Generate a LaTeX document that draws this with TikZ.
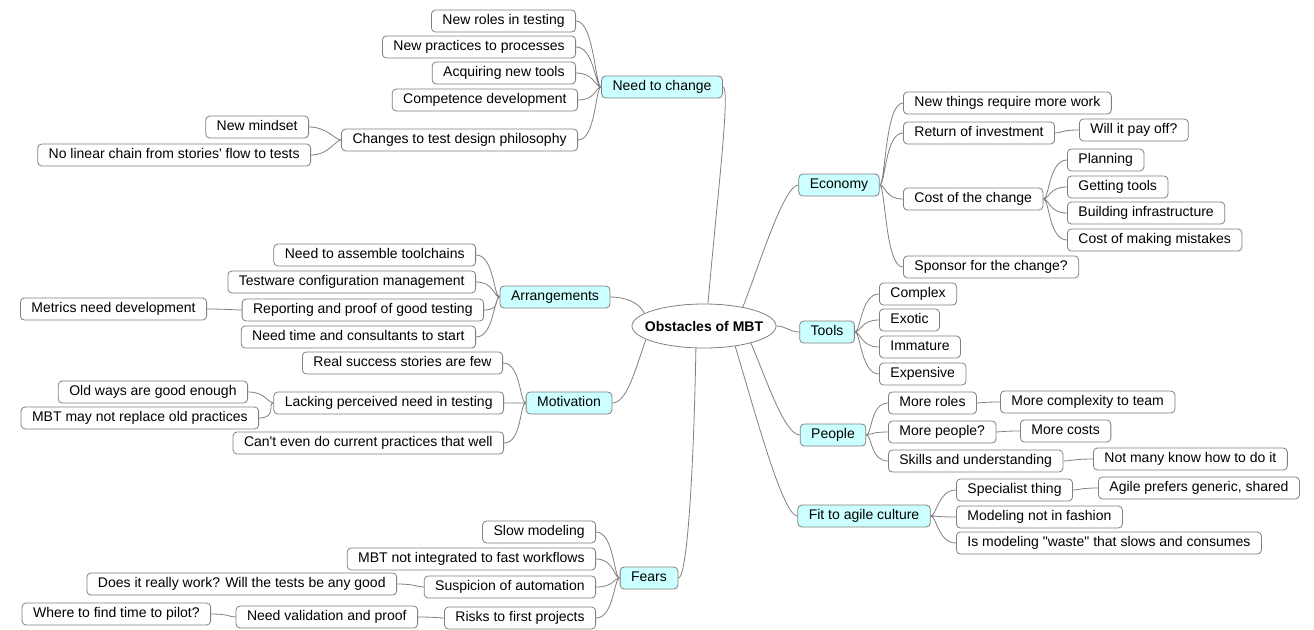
\documentclass[tikz,border=0pt]{standalone}
\usepackage{fontspec}
\setmainfont{Liberation Sans}[Ligatures=TeXOff]
\usetikzlibrary{shapes.geometric}
\definecolor{lnk}{HTML}{808080}
\definecolor{topic}{HTML}{CCFFFF}
\tikzset{
	leaf/.style={draw=lnk, line width=0.8pt, rounded corners=4pt, fill=white, font=\fontsize{14}{16}\selectfont, inner xsep=11pt, inner ysep=2pt, minimum height=22pt, text height=10pt, text depth=3pt},
	topicbox/.style={leaf, fill=topic},
	cn/.style={draw=lnk, line width=0.8pt},
	lbr/.style={out=0, in=180, out distance=18pt, in distance=6pt},
	rbr/.style={out=0, in=180, out distance=6pt, in distance=18pt}
}
\begin{document}
\begin{tikzpicture}[x=1pt, y=1pt]
				\useasboundingbox (0,0) rectangle (1314,-629);
				\node [draw=lnk, line width=0.8pt, ellipse, fill=white, minimum width=144pt, minimum height=44pt, inner xsep=-9pt, inner ysep=0pt, font=\fontsize{14}{16}\selectfont\bfseries] (root) at (704,-326) {Obstacles of MBT};
				%
				\node [topicbox] (ntc) at (662,-87) {Need to change};
				\node [leaf, anchor=east] (roles) at (576,-21) {New roles in testing};
				\node [leaf, anchor=east] (practices) at (576,-47) {New practices to processes};
				\node [leaf, anchor=east] (acquiring) at (576,-73) {Acquiring new tools};
				\node [leaf, anchor=east] (competence) at (578,-100) {Competence development};
				\node [leaf, anchor=east] (changes) at (578,-140) {Changes to test design philosophy};
				\node [leaf, anchor=east] (mindset) at (309,-127) {New mindset};
				\node [leaf, anchor=east] (nolinear) at (311,-155) {No linear chain from stories' flow to tests};
				%
				\node [topicbox] (arr) at (555,-297) {Arrangements};
				\node [leaf, anchor=east] (toolchains) at (476,-255) {Need to assemble toolchains};
				\node [leaf, anchor=east] (testware) at (476,-282) {Testware configuration management};
				\node [leaf, anchor=east] (reporting) at (484,-310) {Reporting and proof of good testing};
				\node [leaf, anchor=east] (consultants) at (476,-337) {Need time and consultants to start};
				\node [leaf, anchor=east] (metrics) at (207,-309) {Metrics need development};
				%
				\node [topicbox] (mot) at (569,-403) {Motivation};
				\node [leaf, anchor=east] (success) at (503,-363) {Real success stories are few};
				\node [leaf, anchor=east] (lacking) at (504,-403) {Lacking perceived need in testing};
				\node [leaf, anchor=east] (cant) at (504,-443) {Can't even do current practices that well};
				\node [leaf, anchor=east] (old) at (248,-392) {Old ways are good enough};
				\node [leaf, anchor=east] (mbtmay) at (259,-418) {MBT may not replace old practices};
				%
				\node [topicbox] (fears) at (649,-578) {Fears};
				\node [leaf, anchor=east] (slow) at (596,-532) {Slow modeling};
				\node [leaf, anchor=east] (notint) at (596,-559) {MBT not integrated to fast workflows};
				\node [leaf, anchor=east] (susp) at (596,-587) {Suspicion of automation};
				\node [leaf, anchor=east] (risks) at (596,-618) {Risks to first projects};
				\node [leaf, anchor=east] (does) at (397,-584) {Does it really work? Will the tests be any good};
				\node [leaf, anchor=east] (valid) at (418,-617) {Need validation and proof};
				\node [leaf, anchor=east] (where) at (211,-614) {Where to find time to pilot?};
				%
				\node [topicbox] (eco) at (839,-185) {Economy};
				\node [leaf, anchor=west] (newthings) at (903,-103) {New things require more work};
				\node [leaf, anchor=west] (roi) at (903,-133) {Return of investment};
				\node [leaf, anchor=west] (payoff) at (1079,-130) {Will it pay off?};
				\node [leaf, anchor=west] (cost) at (903,-199) {Cost of the change};
				\node [leaf, anchor=west] (planning) at (1067,-160) {Planning};
				\node [leaf, anchor=west] (gettools) at (1067,-187) {Getting tools};
				\node [leaf, anchor=west] (building) at (1067,-213) {Building infrastructure};
				\node [leaf, anchor=west] (mistakes) at (1067,-240) {Cost of making mistakes};
				\node [leaf, anchor=west] (sponsor) at (903,-267) {Sponsor for the change?};
				%
				\node [topicbox] (tools) at (827,-332) {Tools};
				\node [leaf, anchor=west] (complex) at (879,-294) {Complex};
				\node [leaf, anchor=west] (exotic) at (879,-320) {Exotic};
				\node [leaf, anchor=west] (immature) at (879,-347) {Immature};
				\node [leaf, anchor=west] (expensive) at (879,-374) {Expensive};
				%
				\node [topicbox] (people) at (833,-435) {People};
				\node [leaf, anchor=west] (moreroles) at (888,-403) {More roles};
				\node [leaf, anchor=west] (complexity) at (1000,-402) {More complexity to team};
				\node [leaf, anchor=west] (morepeople) at (888,-432) {More people?};
				\node [leaf, anchor=west] (costs) at (1020,-431) {More costs};
				\node [leaf, anchor=west] (skills) at (888,-461) {Skills and understanding};
				\node [leaf, anchor=west] (notmany) at (1093,-459) {Not many know how to do it};
				%
				\node [topicbox] (fit) at (864,-516) {Fit to agile culture};
				\node [leaf, anchor=west] (specialist) at (956,-490) {Specialist thing};
				\node [leaf, anchor=west] (agile) at (1098,-488) {Agile prefers generic, shared};
				\node [leaf, anchor=west] (fashion) at (956,-517) {Modeling not in fashion};
				\node [leaf, anchor=west] (waste) at (956,-543) {Is modeling "waste" that slows and consumes};
				%
				\draw [cn] (ntc.east) to[out=0, in=85, out distance=8pt, in distance=110pt] (root.80)
				(root.26) to[out=68, in=180, out distance=40pt, in distance=15pt] (eco.west)
				(root.east) to[out=0, in=180] (tools.west)
				(root.340) to[out=-67, in=180, out distance=40pt, in distance=15pt] (people.west)
				(root.327) to[out=-73, in=180, out distance=60pt, in distance=15pt] (fit.west)
				(root.250) to[out=-91, in=0, out distance=100pt, in distance=10pt] (fears.east)
				(arr.east) to[out=0, in=115, out distance=15pt, in distance=12pt] (root.168)
				(mot.east) to[out=0, in=250, out distance=15pt, in distance=30pt] (root.193);
				%
				\draw [cn] (roles.east) to[lbr] (ntc.west)
				(practices.east) to[lbr] (ntc.west)
				(acquiring.east) to[lbr] (ntc.west)
				(competence.east) to[lbr] (ntc.west)
				(changes.east) to[lbr] (ntc.west)
				(mindset.east) to[lbr] (changes.west)
				(nolinear.east) to[lbr] (changes.west);
				\draw [cn] (toolchains.east) to[lbr] (arr.west)
				(testware.east) to[lbr] (arr.west)
				(reporting.east) to[lbr] (arr.west)
				(consultants.east) to[lbr] (arr.west)
				(metrics.east) to[lbr] (reporting.west);
				\draw [cn] (success.east) to[lbr] (mot.west)
				(lacking.east) to[lbr] (mot.west)
				(cant.east) to[lbr] (mot.west)
				(old.east) to[lbr] (lacking.west)
				(mbtmay.east) to[lbr] (lacking.west);
				\draw [cn] (slow.east) to[lbr] (fears.west)
				(notint.east) to[lbr] (fears.west)
				(susp.east) to[lbr] (fears.west)
				(risks.east) to[lbr] (fears.west)
				(does.east) to[lbr] (susp.west)
				(valid.east) to[lbr] (risks.west)
				(where.east) to[lbr] (valid.west);
				%
				\draw [cn] (eco.east) to[rbr] (newthings.west)
				(eco.east) to[rbr] (roi.west)
				(eco.east) to[rbr] (cost.west)
				(eco.east) to[rbr] (sponsor.west)
				(roi.east) to[rbr] (payoff.west)
				(cost.east) to[rbr] (planning.west)
				(cost.east) to[rbr] (gettools.west)
				(cost.east) to[rbr] (building.west)
				(cost.east) to[rbr] (mistakes.west);
				\draw [cn] (tools.east) to[rbr] (complex.west)
				(tools.east) to[rbr] (exotic.west)
				(tools.east) to[rbr] (immature.west)
				(tools.east) to[rbr] (expensive.west);
				\draw [cn] (people.east) to[rbr] (moreroles.west)
				(people.east) to[rbr] (morepeople.west)
				(people.east) to[rbr] (skills.west)
				(moreroles.east) to[rbr] (complexity.west)
				(morepeople.east) to[rbr] (costs.west)
				(skills.east) to[rbr] (notmany.west);
				\draw [cn] (fit.east) to[rbr] (specialist.west)
				(fit.east) to[rbr] (fashion.west)
				(fit.east) to[rbr] (waste.west)
				(specialist.east) to[rbr] (agile.west);
\end{tikzpicture}
\end{document}
